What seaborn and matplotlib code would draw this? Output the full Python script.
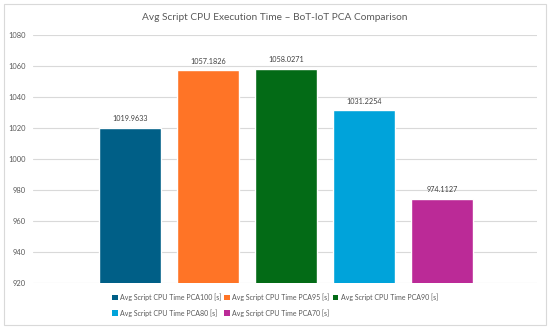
import matplotlib
matplotlib.use("Agg")
import matplotlib.pyplot as plt
import seaborn as sns
import pandas as pd
from matplotlib.patches import Rectangle, Patch

series = ["Avg Script CPU Time PCA100 [s]", "Avg Script CPU Time PCA95 [s]",
          "Avg Script CPU Time PCA90 [s]", "Avg Script CPU Time PCA80 [s]",
          "Avg Script CPU Time PCA70 [s]"]
values = [1019.9633, 1057.1826, 1058.0271, 1031.2254, 974.1127]
colors = ["#005F87", "#FF7426", "#036B16", "#00A3DA", "#BB2A97"]
yticks = [920, 940, 960, 980, 1000, 1020, 1040, 1060, 1080]
title = "Avg Script CPU Execution Time \u2013 BoT-IoT PCA Comparison"

df = pd.DataFrame({"series": series, "value": values})

sns.set_theme(style="white")
plt.rcParams["font.family"] = ["Lato", "DejaVu Sans"]

fig = plt.figure(figsize=(5.5, 3.29), dpi=100)
ax = fig.add_axes([33/550, 1-282.5/329, (537-33)/550, (282.5-35)/329])

sns.barplot(data=df, x="series", y="value", hue="series", palette=colors,
            order=series, hue_order=series, width=0.79, dodge=False,
            legend=False, ax=ax, saturation=1)

ax.set_ylim(920, 1080)
ax.set_yticks(yticks)
ax.set_yticklabels([str(t) for t in yticks], fontsize=5.4, color="#595959")
ax.set_xlim(-1.244, 5.22)
ax.set_xticks([])
ax.set_xlabel("")
ax.set_ylabel("")
ax.tick_params(axis="y", length=0, pad=5)
ax.grid(axis="y", color="#D9D9D9", linewidth=0.8)
ax.set_axisbelow(True)
for s in ax.spines.values():
    s.set_visible(False)

for cont in ax.containers:
    ax.bar_label(cont, fmt="%.4f", fontsize=5.2, color="#404040", padding=4)

fig.text(0.5, 1-17/329, title, ha="center", va="center", fontsize=7.3, color="#595959")

handles = [Patch(facecolor=c, edgecolor="none") for c in colors]
order = [0, 3, 1, 4, 2]
leg = fig.legend([handles[i] for i in order], [series[i] for i in order],
                 ncol=3, loc="center", bbox_to_anchor=(0.5, 1-305/329),
                 frameon=False, fontsize=5.0, handlelength=0.8, handleheight=0.8,
                 handletextpad=0.35, columnspacing=0.45, labelspacing=1.1)
for t in leg.get_texts():
    t.set_color("#595959")

fig.patches.append(Rectangle((4/550, 4/329), 542/550, 321/329, transform=fig.transFigure,
                             fill=False, edgecolor="#D9D9D9", linewidth=0.8))

fig.savefig("out.png", dpi=100, facecolor="white")
